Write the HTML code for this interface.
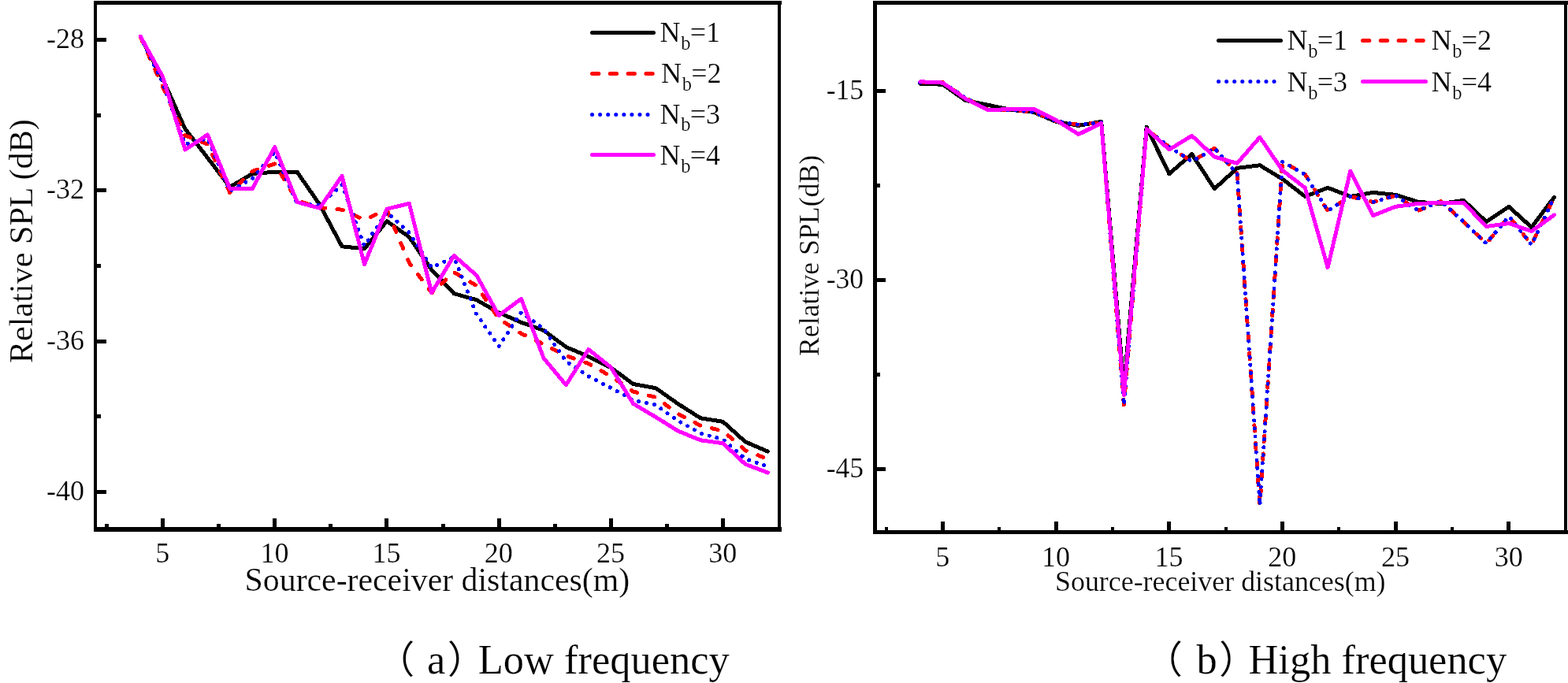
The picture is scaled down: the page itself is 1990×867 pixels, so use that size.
<!DOCTYPE html>
<html lang="en">
<head>
<meta charset="utf-8">
<title>Relative SPL versus source-receiver distance</title>
<style>
html,body{margin:0;padding:0;background:#fff;}
body{width:1990px;height:867px;overflow:hidden;}
svg{display:block;}
text{font-family:"Liberation Serif", "Noto Serif CJK SC", serif;fill:#000;stroke:#fff;stroke-width:0.22px;}
.tk{font-size:36px;}
.tkr{font-size:35.5px;}
.lg{font-size:36px;}
.sub{font-size:24.5px;}
.par{font-size:48.6px;font-family:"Liberation Serif","Noto Sans CJK SC",sans-serif;}
.data polyline{fill:none;stroke-width:5;stroke-linecap:round;stroke-linejoin:round;}
.leg line{stroke-width:5;stroke-linecap:round;}
</style>
</head>
<body>
<svg width="1990" height="867" viewBox="0 0 1990 867">
<rect x="0" y="0" width="1990" height="867" fill="#fff" stroke="none"/>

<g fill="#000" shape-rendering="crispEdges">
<rect x="119" y="1" width="4" height="674"/>
<rect x="119" y="1" width="873" height="5"/>
<rect x="987" y="1" width="4" height="674"/>
<rect x="119" y="669" width="873" height="6"/>
<rect x="123" y="48" width="12" height="5"/>
<rect x="123" y="239" width="12" height="5"/>
<rect x="123" y="431" width="12" height="5"/>
<rect x="123" y="622" width="12" height="5"/>
<rect x="123" y="144" width="5" height="5"/>
<rect x="123" y="335" width="5" height="5"/>
<rect x="123" y="526" width="5" height="5"/>
<rect x="204" y="658" width="5" height="11"/>
<rect x="346" y="658" width="5" height="11"/>
<rect x="488" y="658" width="5" height="11"/>
<rect x="631" y="658" width="5" height="11"/>
<rect x="773" y="658" width="5" height="11"/>
<rect x="915" y="658" width="5" height="11"/>
<rect x="133" y="665" width="5" height="4"/>
<rect x="275" y="665" width="5" height="4"/>
<rect x="417" y="665" width="5" height="4"/>
<rect x="560" y="665" width="5" height="4"/>
<rect x="702" y="665" width="5" height="4"/>
<rect x="844" y="665" width="5" height="4"/>
</g>
<g fill="#000" shape-rendering="crispEdges">
<rect x="1108" y="1" width="5" height="677"/>
<rect x="1108" y="1" width="882" height="5"/>
<rect x="1985" y="1" width="4" height="677"/>
<rect x="1108" y="673" width="882" height="5"/>
<rect x="1113" y="113" width="11" height="5"/>
<rect x="1113" y="353" width="11" height="5"/>
<rect x="1113" y="593" width="11" height="5"/>
<rect x="1113" y="233" width="4" height="5"/>
<rect x="1113" y="473" width="4" height="5"/>
<rect x="1194" y="662" width="5" height="11"/>
<rect x="1338" y="662" width="5" height="11"/>
<rect x="1481" y="662" width="5" height="11"/>
<rect x="1625" y="662" width="5" height="11"/>
<rect x="1769" y="662" width="5" height="11"/>
<rect x="1912" y="662" width="5" height="11"/>
<rect x="1123" y="669" width="4" height="4"/>
<rect x="1266" y="669" width="4" height="4"/>
<rect x="1410" y="669" width="4" height="4"/>
<rect x="1554" y="669" width="4" height="4"/>
<rect x="1697" y="669" width="4" height="4"/>
<rect x="1841" y="669" width="4" height="4"/>
</g>
<g class="data" shape-rendering="crispEdges">
<polyline points="178.1,46.5 206.5,100.0 234.9,163.5 263.4,200.3 291.8,237.4 320.3,220.4 348.7,218.3 377.1,218.3 405.6,259.5 434.0,312.8 462.5,315.8 490.9,280.7 519.3,300.8 547.8,342.5 576.2,372.7 604.7,380.7 633.1,396.8 661.5,409.3 690.0,419.4 718.4,440.5 746.9,452.6 775.3,466.6 803.7,487.5 832.2,492.7 860.6,512.7 889.1,530.8 917.5,535.3 945.9,560.8 974.4,573.1" stroke="#000"/>
<polyline points="178.1,46.5 206.5,110.0 234.9,172.0 263.4,183.0 291.8,244.5 320.3,217.3 348.7,207.9 377.1,254.5 405.6,263.6 434.0,266.2 462.5,279.0 490.9,266.3 519.3,333.5 547.8,371.7 576.2,345.5 604.7,362.6 633.1,404.5 661.5,423.4 690.0,436.9 718.4,451.6 746.9,461.6 775.3,477.7 803.7,497.0 832.2,504.3 860.6,525.5 889.1,540.2 917.5,547.1 945.9,571.6 974.4,582.9" stroke="#f00" stroke-dasharray="7.6 15.3"/>
<polyline points="178.1,46.5 206.5,105.0 234.9,183.0 263.4,176.0 291.8,242.5 320.3,226.4 348.7,193.2 377.1,258.5 405.6,260.6 434.0,234.4 462.5,312.0 490.9,269.3 519.3,295.5 547.8,339.5 576.2,326.4 604.7,398.6 633.1,439.5 661.5,396.5 690.0,417.4 718.4,458.6 746.9,477.7 775.3,492.4 803.7,508.0 832.2,514.0 860.6,534.3 889.1,550.0 917.5,557.8 945.9,582.4 974.4,592.2" stroke="#00f" stroke-dasharray="0.1 10"/>
<polyline points="178.1,46.1 206.5,97.3 234.9,190.0 263.4,170.9 291.8,239.4 320.3,239.4 348.7,186.8 377.1,256.5 405.6,264.2 434.0,223.4 462.5,335.6 490.9,265.3 519.3,258.3 547.8,371.7 576.2,324.4 604.7,349.5 633.1,400.5 661.5,379.4 690.0,454.6 718.4,488.7 746.9,443.5 775.3,466.2 803.7,512.5 832.2,529.4 860.6,547.1 889.1,558.8 917.5,562.7 945.9,589.2 974.4,600.0" stroke="#f0f"/>
<polyline points="1167.8,106.4 1196.5,107.2 1225.2,127.4 1254.0,133.3 1282.7,139.3 1311.5,142.3 1340.2,154.4 1368.9,159.4 1397.7,154.4 1426.4,492.0 1455.2,161.4 1483.9,220.7 1512.6,195.6 1541.4,239.6 1570.1,213.4 1598.9,209.8 1627.6,227.3 1656.3,249.4 1685.1,238.3 1713.8,249.4 1742.6,244.4 1771.3,247.4 1800.0,256.4 1828.8,258.4 1857.5,254.4 1886.3,281.5 1915.0,262.4 1943.7,288.5 1972.5,250.4" stroke="#000"/>
<polyline points="1167.8,105.0 1196.5,104.6 1225.2,124.2 1254.0,139.5 1282.7,139.5 1311.5,142.3 1340.2,153.5 1368.9,158.4 1397.7,155.4 1426.4,514.0 1455.2,164.4 1483.9,186.5 1512.6,204.9 1541.4,188.2 1570.1,220.4 1598.9,641.5 1627.6,205.2 1656.3,221.3 1685.1,267.5 1713.8,249.3 1742.6,256.5 1771.3,248.3 1800.0,267.4 1828.8,255.4 1857.5,281.5 1886.3,309.2 1915.0,274.5 1943.7,310.7 1972.5,250.4" stroke="#f00" stroke-dasharray="7.6 15.3"/>
<polyline points="1167.8,105.0 1196.5,104.6 1225.2,124.2 1254.0,139.5 1282.7,139.5 1311.5,142.3 1340.2,153.5 1368.9,158.4 1397.7,155.4 1426.4,514.0 1455.2,164.4 1483.9,186.5 1512.6,204.9 1541.4,188.2 1570.1,220.4 1598.9,641.5 1627.6,205.2 1656.3,221.3 1685.1,267.5 1713.8,249.3 1742.6,256.5 1771.3,248.3 1800.0,267.4 1828.8,255.4 1857.5,281.5 1886.3,309.2 1915.0,274.5 1943.7,310.7 1972.5,250.4" stroke="#00f" stroke-dasharray="0.1 10"/>
<polyline points="1167.8,103.7 1196.5,105.1 1225.2,125.2 1254.0,139.9 1282.7,138.3 1311.5,138.3 1340.2,152.4 1368.9,170.5 1397.7,156.3 1426.4,501.4 1455.2,163.8 1483.9,189.9 1512.6,172.3 1541.4,199.1 1570.1,207.3 1598.9,174.2 1627.6,216.3 1656.3,238.4 1685.1,339.5 1713.8,217.2 1742.6,273.6 1771.3,262.3 1800.0,258.4 1828.8,257.4 1857.5,257.4 1886.3,287.5 1915.0,283.5 1943.7,293.6 1972.5,272.9" stroke="#f0f"/>
</g>
<text class="tk" x="107" y="61.3" text-anchor="end">-28</text>
<text class="tk" x="107" y="252.0" text-anchor="end">-32</text>
<text class="tk" x="107" y="443.5" text-anchor="end">-36</text>
<text class="tk" x="107" y="634.8" text-anchor="end">-40</text>
<text class="tk" x="206.2" y="714.3" text-anchor="middle">5</text>
<text class="tk" x="348.4" y="714.3" text-anchor="middle">10</text>
<text class="tk" x="490.6" y="714.3" text-anchor="middle">15</text>
<text class="tk" x="632.8" y="714.3" text-anchor="middle">20</text>
<text class="tk" x="775.0" y="714.3" text-anchor="middle">25</text>
<text class="tk" x="917.2" y="714.3" text-anchor="middle">30</text>
<text x="310.6" y="749.6" font-size="41.8">Source-receiver distances(m)</text>
<text transform="translate(40.5,461) rotate(-90)" font-size="42.15">Relative SPL (dB)</text>
<text class="tkr" x="1096" y="125.8" text-anchor="end">-15</text>
<text class="tkr" x="1096" y="365.8" text-anchor="end">-30</text>
<text class="tkr" x="1096" y="605.8" text-anchor="end">-45</text>
<text class="tk" x="1196.2" y="718.7" text-anchor="middle">5</text>
<text class="tk" x="1339.9" y="718.7" text-anchor="middle">10</text>
<text class="tk" x="1483.6" y="718.7" text-anchor="middle">15</text>
<text class="tk" x="1627.3" y="718.7" text-anchor="middle">20</text>
<text class="tk" x="1771.0" y="718.7" text-anchor="middle">25</text>
<text class="tk" x="1914.7" y="718.7" text-anchor="middle">30</text>
<text x="1339" y="750" font-size="35.9">Source-receiver distances(m)</text>
<text transform="translate(1039.3,452) rotate(-90)" font-size="35.75">Relative SPL(dB)</text>
<g class="leg">
<line x1="751.5" y1="41.5" x2="829.5" y2="41.5" stroke="#000"/>
<text class="lg" x="837.5" y="53.2">N<tspan class="sub" dx="0.8" dy="9.6">b</tspan><tspan dx="-0.9" dy="-9.6">=1</tspan></text>
<line x1="751.5" y1="93.5" x2="829.5" y2="93.5" stroke="#f00" stroke-dasharray="8.3 14.5"/>
<text class="lg" x="839" y="105.0">N<tspan class="sub" dx="0.8" dy="9.6">b</tspan><tspan dx="-0.9" dy="-9.6">=2</tspan></text>
<line x1="751.5" y1="145.5" x2="825.5" y2="145.5" stroke="#00f" stroke-dasharray="0.1 9.97"/>
<text class="lg" x="837.5" y="156.8">N<tspan class="sub" dx="0.8" dy="9.6">b</tspan><tspan dx="-0.9" dy="-9.6">=3</tspan></text>
<line x1="751.5" y1="196.5" x2="829.5" y2="196.5" stroke="#f0f"/>
<text class="lg" x="837.5" y="208.9">N<tspan class="sub" dx="0.8" dy="9.6">b</tspan><tspan dx="-0.9" dy="-9.6">=4</tspan></text>
<line x1="1546.5" y1="51.5" x2="1625.5" y2="51.5" stroke="#000"/>
<text class="lg" x="1633.5" y="63">N<tspan class="sub" dx="0.8" dy="9.6">b</tspan><tspan dx="-0.9" dy="-9.6">=1</tspan></text>
<line x1="1729.5" y1="51.5" x2="1807.5" y2="51.5" stroke="#f00" stroke-dasharray="8.3 14.5"/>
<text class="lg" x="1816.5" y="63">N<tspan class="sub" dx="0.8" dy="9.6">b</tspan><tspan dx="-0.9" dy="-9.6">=2</tspan></text>
<line x1="1546.5" y1="103.5" x2="1621.5" y2="103.5" stroke="#00f" stroke-dasharray="0.1 9.97"/>
<text class="lg" x="1633.5" y="116">N<tspan class="sub" dx="0.8" dy="9.6">b</tspan><tspan dx="-0.9" dy="-9.6">=3</tspan></text>
<line x1="1729.5" y1="103.5" x2="1809.5" y2="103.5" stroke="#f0f"/>
<text class="lg" x="1816.5" y="116">N<tspan class="sub" dx="0.8" dy="9.6">b</tspan><tspan dx="-0.9" dy="-9.6">=4</tspan></text>
</g>
<text font-size="52.45" y="855.2"><tspan class="par" x="477.8" dy="-0.3">（</tspan><tspan x="542" dy="0.3">a</tspan><tspan class="par" x="567.8" dy="-0.3">）</tspan><tspan x="606.8" dy="0.3">Low frequency</tspan></text>
<text font-size="52.45" y="854.8"><tspan class="par" x="1452.5" dy="-0.3">（</tspan><tspan x="1518.5" dy="0.3">b</tspan><tspan class="par" x="1547" dy="-0.3">）</tspan><tspan x="1584.5" dy="0.3">High frequency</tspan></text>
</svg>
</body>
</html>
